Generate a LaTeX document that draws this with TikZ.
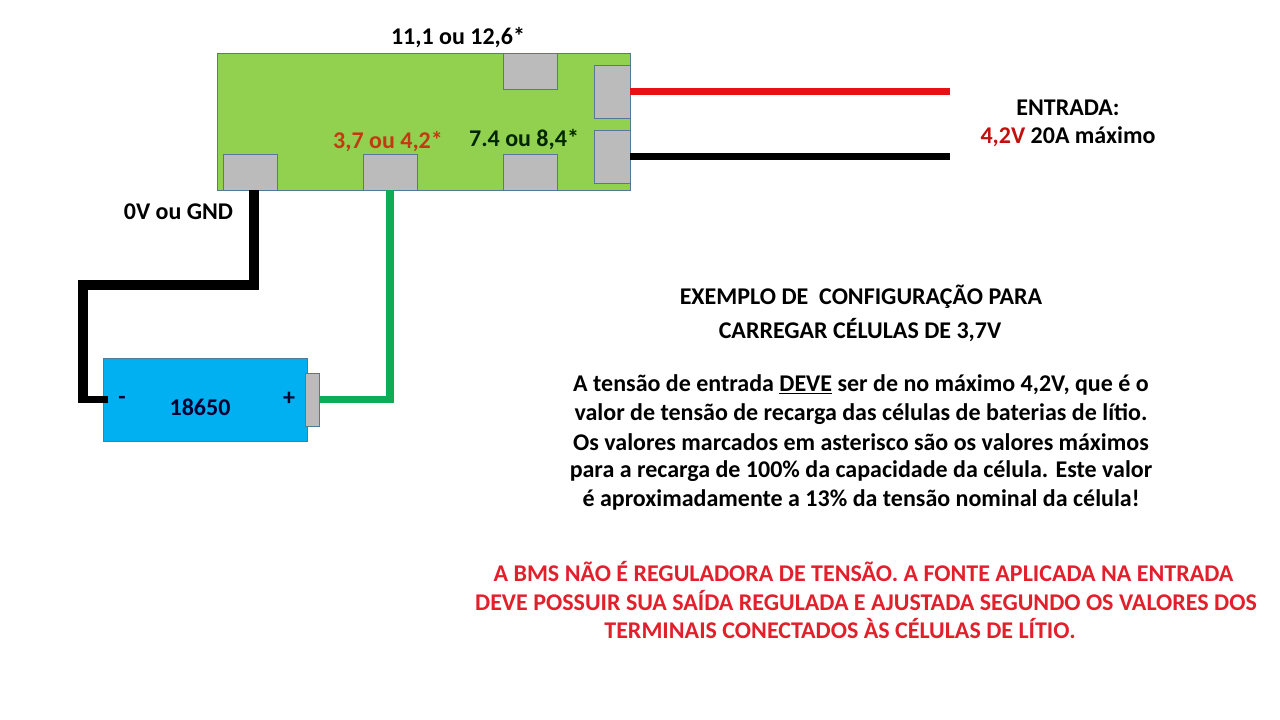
\documentclass[tikz,border=0pt]{standalone}
\usepackage{fontspec}
\setmainfont{Carlito}
\definecolor{boardgreen}{HTML}{92D050}
\definecolor{padgray}{HTML}{BBBBBB}
\definecolor{edgeblue}{HTML}{527A96}
\definecolor{cellblue}{HTML}{00B0F0}
\definecolor{wirered}{HTML}{E81010}
\definecolor{wiregreen}{HTML}{0DAD55}
\definecolor{notered}{HTML}{E2202C}
\definecolor{labelred}{HTML}{C23A12}
\tikzset{
    padbox/.style={draw=edgeblue, line width=0.8pt, fill=padgray, inner sep=0pt},
    toppad/.style={padbox, minimum width=54pt, minimum height=36pt},
    sidepad/.style={padbox, minimum width=36pt, minimum height=53pt},
    wire/.style={line cap=butt, line join=miter},
    txt/.style={inner sep=0pt, font=\fontsize{24}{28}\selectfont\bfseries},
    warn/.style={txt, text=notered}
}
\begin{document}
\begin{tikzpicture}[x=1pt, y=-1pt]
    \useasboundingbox (0,0) rectangle (1280,720);

    % Board and its pads
    \node[draw=edgeblue, line width=0.8pt, fill=boardgreen, inner sep=0pt, minimum width=413pt, minimum height=137pt] (board) at (424,121.5) {};
    \node[toppad] (padtop) at (530,71) {};
    \node[sidepad] (padin) at (612,91.5) {};
    \node[sidepad] (padout) at (612,156.5) {};
    \node[toppad] (padgnd) at (250.5,172) {};
    \node[toppad] (padcell) at (390,172) {};
    \node[toppad] (padmid) at (530,172) {};

    % Battery
    \node[draw=edgeblue, line width=0.8pt, fill=cellblue, inner sep=0pt, minimum width=204pt, minimum height=83pt] (cell) at (205.5,399.5) {};
    \node[padbox, minimum width=14pt, minimum height=53pt] (cellcap) at (312.5,399.5) {};

    % Wires
    \coordinate (inred) at (950,91.5);
    \coordinate (inblack) at (950,156.5);
    \coordinate (gndturn) at (254,285);
    \coordinate (gndleft) at (83,285);
    \coordinate (gndlow) at (83,403);
    \draw[wire, wirered, line width=7pt] (padin.east) -- (inred);
    \draw[wire, black, line width=7pt] (padout.east) -- (inblack);
    \draw[wire, black, line width=10pt] ([xshift=3.5pt]padgnd.south) -- (gndturn) -- (gndleft) -- (gndlow);
    \draw[wire, black, line width=6.5pt] (gndleft |- cell.west) -- ([xshift=5pt]cell.west);
    \draw[wire, wiregreen, line width=8pt] (padcell.south) -- (padcell.south |- cellcap.east);
    \draw[wire, wiregreen, line width=7pt] ([xshift=4pt]padcell.south |- cellcap.east) -- (cellcap.east);

    % Labels on the circuit
    \node[txt] (lbltop) at (458,38) {11,1 ou 12,6*};
    \node[txt, text=labelred] (lblcell) at (388,142) {3,7 ou 4,2*};
    \node[txt, text=black!85!green] (lblmid) at (524,140) {7.4 ou 8,4*};
    \node[txt] (lblgnd) at (178.5,212) {0V ou GND};
    \node[txt] (lblin) at (1068,108) {ENTRADA:};
    \node[txt] (lblvolt) at (1068,137) {\textcolor{wirered!85!black}{4,2V} 20A máximo};
    \node[txt, text=black!80!blue] (lblcellname) at (200,407) {18650};
    \node[txt, text=black!80!blue] (lblminus) at (122,400) {-};
    \node[txt, text=black!80!blue] (lblplus) at (289,399) {+};

    % Text on the right
    \node[txt] (head1) at (861,296.5) {EXEMPLO DE\ \ CONFIGURAÇÃO PARA};
    \node[txt] (head2) at (860,330) {CARREGAR CÉLULAS DE 3,7V};
    \node[txt] (line1) at (861,385) {A tensão de entrada \underline{DEVE} ser de no máximo 4,2V, que é o};
    \node[txt] (line2) at (861,414) {valor de tensão de recarga das células de baterias de lítio.};
    \node[txt] (line3) at (861,442) {Os valores marcados em asterisco são os valores máximos};
    \node[txt] (line4) at (861,471) {para a recarga de 100\% da capacidade da célula. Este valor};
    \node[txt] (line5) at (861,500) {é aproximadamente a 13\% da tensão nominal da célula!};
    \node[warn] (warn1) at (863.5,572) {A BMS NÃO É REGULADORA DE TENSÃO. A FONTE APLICADA NA ENTRADA};
    \node[warn] (warn2) at (866,601) {DEVE POSSUIR SUA SAÍDA REGULADA E AJUSTADA SEGUNDO OS VALORES DOS};
    \node[warn] (warn3) at (840,629) {TERMINAIS CONECTADOS ÀS CÉLULAS DE LÍTIO.};
\end{tikzpicture}
\end{document}
